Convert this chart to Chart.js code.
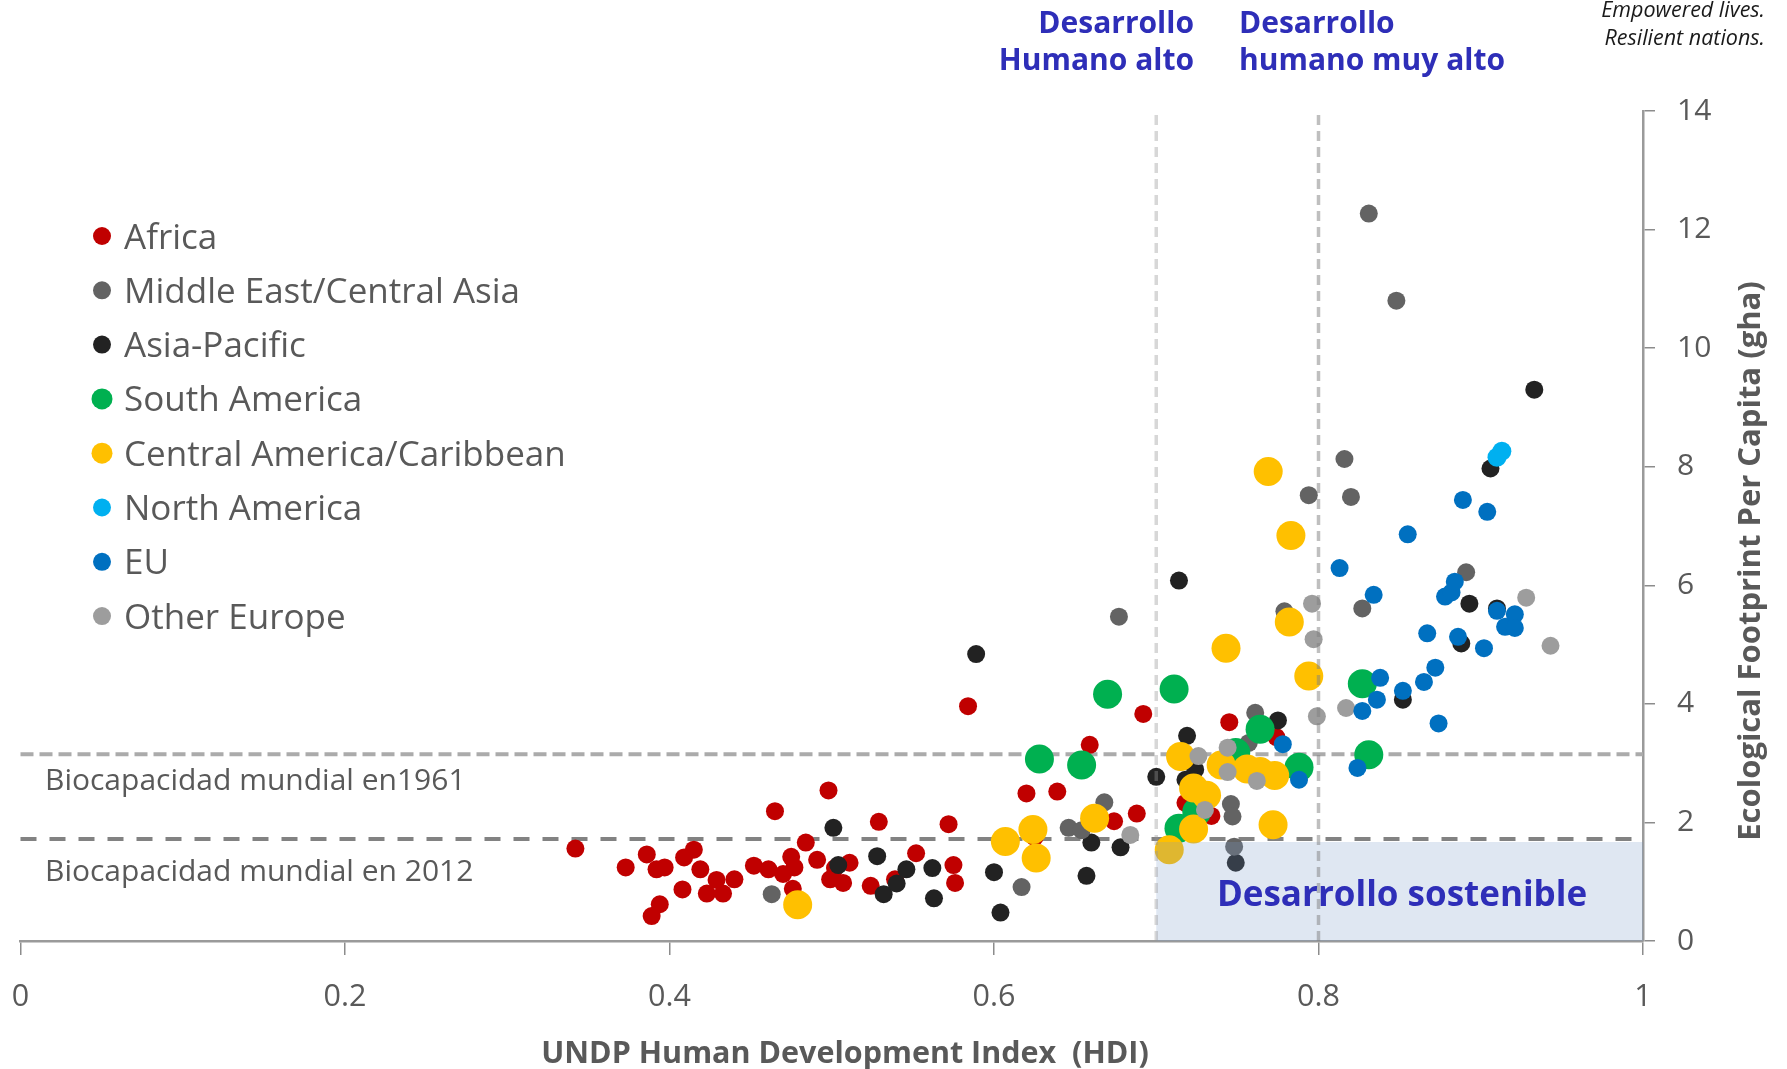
<!DOCTYPE html>
<html>
<head>
<meta charset="utf-8">
<script src="https://cdn.jsdelivr.net/npm/chart.js@4.4.1/dist/chart.umd.min.js"></script>
<style>
html,body{margin:0;padding:0;background:#ffffff;overflow:hidden}
canvas{display:block}
</style>
</head>
<body>
<canvas id="chart" width="1787" height="1069"></canvas>
<script>
// ---------------- DATA (HDI, Ecological Footprint gha per capita) ----------------
const africa = [
  [0.342,1.56],[0.373,1.24],[0.386,1.46],[0.392,1.21],[0.397,1.24],[0.389,0.42],[0.394,0.62],
  [0.408,0.87],[0.409,1.41],[0.415,1.54],[0.419,1.21],[0.423,0.80],[0.429,1.03],[0.433,0.80],
  [0.440,1.04],[0.452,1.27],[0.461,1.21],[0.465,2.19],[0.470,1.13],[0.475,1.42],[0.476,0.88],
  [0.477,1.24],[0.484,1.66],[0.491,1.37],[0.498,2.54],[0.499,1.04],[0.502,1.23],[0.507,0.98],
  [0.511,1.32],[0.524,0.93],[0.529,2.01],[0.539,1.04],[0.552,1.48],[0.572,1.97],[0.575,1.28],
  [0.576,0.98],[0.584,3.96],[0.620,2.49],[0.625,1.75],[0.639,2.52],[0.659,3.31],[0.674,2.02],
  [0.688,2.15],[0.692,3.83],[0.718,2.33],[0.734,2.11],[0.745,3.69],[0.774,3.44]
];
const middleEastCentralAsia = [
  [0.463,0.79],[0.617,0.91],[0.646,1.91],[0.654,1.87],[0.668,2.34],[0.677,5.47],[0.746,2.31],
  [0.747,2.10],[0.748,1.59],[0.757,3.34],[0.761,3.85],[0.779,5.56],[0.794,7.52],[0.816,8.13],
  [0.820,7.49],[0.827,5.61],[0.831,12.27],[0.848,10.80],[0.891,6.22]
];
const asiaPacific = [
  [0.501,1.91],[0.504,1.28],[0.528,1.43],[0.532,0.79],[0.540,0.97],[0.546,1.21],[0.562,1.23],
  [0.563,0.72],[0.589,4.84],[0.600,1.16],[0.604,0.48],[0.657,1.10],[0.660,1.66],[0.678,1.58],
  [0.700,2.77],[0.714,6.08],[0.718,2.72],[0.719,3.46],[0.724,2.89],[0.749,1.32],[0.775,3.72],
  [0.852,4.07],[0.888,5.02],[0.893,5.69],[0.906,7.97],[0.910,5.61],[0.933,9.30]
];
const southAmerica = [
  [0.628,3.07],[0.654,2.97],[0.670,4.16],[0.711,4.25],[0.714,1.90],[0.725,2.18],[0.749,3.18],
  [0.764,3.57],[0.788,2.93],[0.827,4.34],[0.831,3.14]
];
const centralAmericaCaribbean = [
  [0.479,0.61],[0.607,1.68],[0.624,1.88],[0.626,1.40],[0.662,2.07],[0.708,1.54],[0.715,3.11],
  [0.723,2.58],[0.731,2.46],[0.723,1.89],[0.740,2.97],[0.756,2.90],[0.764,2.86],[0.773,2.79],
  [0.772,1.96],[0.743,4.94],[0.782,5.38],[0.794,4.47],[0.783,6.84],[0.769,7.92]
];
const northAmerica = [[0.910,8.16],[0.913,8.26]];
const eu = [
  [0.778,3.32],[0.788,2.72],[0.813,6.29],[0.824,2.92],[0.827,3.88],[0.834,5.84],[0.836,4.07],
  [0.838,4.44],[0.852,4.22],[0.855,6.86],[0.865,4.37],[0.867,5.19],[0.872,4.61],[0.874,3.67],
  [0.878,5.81],[0.882,5.88],[0.884,6.06],[0.886,5.13],[0.889,7.44],[0.902,4.94],[0.904,7.24],
  [0.910,5.57],[0.915,5.30],[0.921,5.51],[0.921,5.28]
];
const otherEurope = [
  [0.684,1.79],[0.726,3.12],[0.730,2.21],[0.744,3.26],[0.744,2.85],[0.762,2.70],[0.796,5.69],
  [0.797,5.09],[0.799,3.79],[0.817,3.93],[0.928,5.79],[0.943,4.98]
];

const regionNames = ['Africa','Middle East/Central Asia','Asia-Pacific','South America',
  'Central America/Caribbean','North America','EU','Other Europe'];
const regionData = [africa, middleEastCentralAsia, asiaPacific, southAmerica,
  centralAmericaCaribbean, northAmerica, eu, otherEurope];

const xTicks = [0, 0.2, 0.4, 0.6, 0.8, 1];
const xTickLabels = ['0', '0.2', '0.4', '0.6', '0.8', '1'];
const yTicks = [0, 2, 4, 6, 8, 10, 12, 14];
const yTickLabels = ['0', '2', '4', '6', '8', '10', '12', '14'];

const hdiThresholds = [0.7, 0.8];          // high / very high human development
const worldBiocapacity = [3.15, 1.72];     // 1961, 2012
const sustainableZone = {xMin: 0.7, xMax: 1, yMin: 0, yMax: 1.67};

const bioLabels = ['Biocapacidad mundial en1961', 'Biocapacidad mundial en 2012'];
const headingHigh = ['Desarrollo', 'Humano alto'];
const headingVeryHigh = ['Desarrollo', 'humano muy alto'];
const tagline = ['Empowered lives.', 'Resilient nations.'];
const zoneLabel = 'Desarrollo sostenible';
const xTitle = 'UNDP Human Development Index  (HDI)';
const yTitle = 'Ecological Footprint Per Capita (gha)';

// ---------------- STYLES ----------------
const FONT = '"Open Sans", "Noto Sans", sans-serif';
const regionColors = ['#c00000','#636363','#222222','#00b050','#ffc000','#00b0f0','#0070c0','#9d9d9d'];
const regionRadius = [9, 9, 9, 14.5, 14.5, 9.5, 9, 9];
const regionOrder = [7, 5, 6, 4, 3, 1, 0, 2];   // lower = drawn on top
const legendRadius = [9, 9, 9, 10.5, 10.5, 9, 9, 9];
const TEXT_GREY = '#595959';
const BLUE_TEXT = '#2e2eb8';

const overlay = {
  id: 'overlay',
  beforeDatasetsDraw(chart) {
    const {ctx, scales: {x, y}} = chart;
    const styles = [
      {color: '#ababab', width: 4, dash: [13, 6]},
      {color: '#828282', width: 4, dash: [16, 13]}
    ];
    ctx.save();
    worldBiocapacity.forEach((v, i) => {
      const py = y.getPixelForValue(v);
      ctx.beginPath();
      ctx.setLineDash(styles[i].dash);
      ctx.strokeStyle = styles[i].color;
      ctx.lineWidth = styles[i].width;
      ctx.moveTo(x.getPixelForValue(0), py);
      ctx.lineTo(x.getPixelForValue(1), py);
      ctx.stroke();
    });
    ctx.restore();
  },
  afterDatasetsDraw(chart) {
    const {ctx, scales: {x, y}} = chart;
    ctx.save();
    // sustainable development zone
    const x0 = x.getPixelForValue(sustainableZone.xMin), x1 = x.getPixelForValue(sustainableZone.xMax);
    const y0 = y.getPixelForValue(sustainableZone.yMax), y1 = y.getPixelForValue(sustainableZone.yMin);
    ctx.fillStyle = 'rgba(122,155,201,0.24)';
    ctx.fillRect(x0, y0, x1 - x0, y1 - y0);
    // vertical HDI thresholds
    const vStyles = [
      {color: 'rgba(150,150,150,0.38)', width: 3.5, dash: [10, 6]},
      {color: 'rgba(128,128,128,0.5)', width: 3.5, dash: [10, 6]}
    ];
    hdiThresholds.forEach((v, i) => {
      const px = x.getPixelForValue(v);
      ctx.beginPath();
      ctx.setLineDash(vStyles[i].dash);
      ctx.strokeStyle = vStyles[i].color;
      ctx.lineWidth = vStyles[i].width;
      ctx.moveTo(px, y.getPixelForValue(0));
      ctx.lineTo(px, y.getPixelForValue(14));
      ctx.stroke();
    });
    ctx.setLineDash([]);
    // zone label
    ctx.fillStyle = BLUE_TEXT;
    ctx.font = 'bold 35px ' + FONT;
    ctx.textAlign = 'center';
    ctx.textBaseline = 'alphabetic';
    ctx.fillText(zoneLabel, 1402, 906);
    ctx.restore();
  },
  afterDraw(chart) {
    const {ctx} = chart;
    ctx.save();
    // legend
    ctx.font = '35px ' + FONT;
    ctx.textAlign = 'left';
    ctx.textBaseline = 'alphabetic';
    regionNames.forEach((name, i) => {
      const cy = 236 + i * 54.3;
      ctx.beginPath();
      ctx.fillStyle = regionColors[i];
      ctx.arc(102, cy, legendRadius[i], 0, Math.PI * 2);
      ctx.fill();
      ctx.fillStyle = TEXT_GREY;
      ctx.fillText(name, 124, cy + 12.5);
    });
    // biocapacity labels
    ctx.font = '30px ' + FONT;
    ctx.fillStyle = TEXT_GREY;
    ctx.fillText(bioLabels[0], 45, 790);
    ctx.fillText(bioLabels[1], 45, 881);
    // top headings
    ctx.font = 'bold 30px ' + FONT;
    ctx.fillStyle = BLUE_TEXT;
    ctx.textAlign = 'right';
    ctx.fillText(headingHigh[0], 1194, 33);
    ctx.fillText(headingHigh[1], 1194, 70);
    ctx.textAlign = 'left';
    ctx.fillText(headingVeryHigh[0], 1239, 33);
    ctx.fillText(headingVeryHigh[1], 1239, 70);
    // tagline
    ctx.font = 'italic 21.5px ' + FONT;
    ctx.fillStyle = '#1a1a1a';
    ctx.textAlign = 'right';
    ctx.fillText(tagline[0], 1765, 17);
    ctx.fillText(tagline[1], 1765, 45);
    // axis titles
    ctx.font = 'bold 30.5px ' + FONT;
    ctx.fillStyle = TEXT_GREY;
    ctx.textAlign = 'center';
    ctx.fillText(xTitle, 845, 1063);
    ctx.font = 'bold 31px ' + FONT;
    ctx.translate(1760, 561);
    ctx.rotate(-Math.PI / 2);
    ctx.fillText(yTitle, 0, 0);
    ctx.restore();
  }
};

function build() {
  const datasets = regionNames.map((name, i) => ({
    label: name,
    data: regionData[i].map(p => ({x: p[0], y: p[1]})),
    backgroundColor: regionColors[i],
    borderWidth: 0,
    pointRadius: regionRadius[i],
    pointHoverRadius: regionRadius[i],
    pointStyle: 'circle',
    order: regionOrder[i]
  }));

  new Chart(document.getElementById('chart'), {
    type: 'scatter',
    data: {datasets},
    plugins: [overlay],
    options: {
      responsive: false,
      animation: false,
      events: [],
      layout: {padding: {top: 111, left: 20.5, right: 0, bottom: 0}},
      plugins: {legend: {display: false}, tooltip: {enabled: false}},
      scales: {
        x: {
          type: 'linear', position: 'bottom', min: 0, max: 1,
          afterBuildTicks: s => { s.ticks = xTicks.map(v => ({value: v})); },
          afterFit: s => { s.height = 128; s.paddingLeft = 0; s.paddingRight = 0; },
          ticks: {
            callback: (v, i) => xTickLabels[i],
            font: {family: FONT, size: 30.5}, color: TEXT_GREY,
            padding: 24, maxRotation: 0, autoSkip: false
          },
          grid: {drawOnChartArea: false, drawTicks: true, tickLength: 14, color: '#8c8c8c', lineWidth: 1.5},
          border: {display: true, color: '#9a9a9a', width: 2.5}
        },
        y: {
          type: 'linear', position: 'right', min: 0, max: 14,
          afterBuildTicks: s => { s.ticks = yTicks.map(v => ({value: v})); },
          afterFit: s => { s.width = 144; },
          ticks: {
            callback: (v, i) => yTickLabels[i],
            font: {family: FONT, size: 30}, color: TEXT_GREY,
            padding: 22, autoSkip: false
          },
          grid: {drawOnChartArea: false, drawTicks: true, tickLength: 12, color: '#8c8c8c', lineWidth: 1.5},
          border: {display: true, color: '#9a9a9a', width: 2.5}
        }
      }
    }
  });
}

const fontLoads = ['28px "Open Sans"', 'bold 28px "Open Sans"', 'italic 20px "Open Sans"']
  .map(f => document.fonts.load(f).catch(() => null));
Promise.all(fontLoads).then(build, build);
</script>
</body>
</html>
